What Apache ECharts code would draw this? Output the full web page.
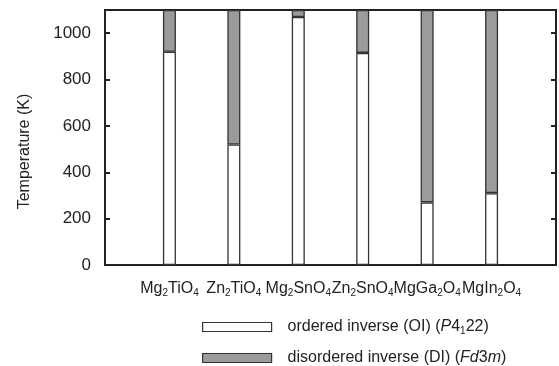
<!DOCTYPE html>
<html><head><meta charset="utf-8">
<script src="https://cdn.jsdelivr.net/npm/echarts@6/dist/echarts.min.js"></script>
<style>html,body{margin:0;padding:0;background:#fff}#c{width:559px;height:366px}</style>
</head><body><div id="c"></div>
<script>
const categories = ['', 'Mg{s|2}TiO{s|4}', 'Zn{s|2}TiO{s|4}', 'Mg{s|2}SnO{s|4}', 'Zn{s|2}SnO{s|4}', 'MgGa{s|2}O{s|4}', 'MgIn{s|2}O{s|4}', ''];
const orderedInverse = [null, 920, 520, 1070, 915, 270, 310, null];
const topTemperature = 1100;
const disorderedInverse = orderedInverse.map(v => v == null ? null : topTemperature - v);
const yTicks = [0, 200, 400, 600, 800, 1000];
const legendNames = {
  OI: 'ordered inverse (OI) ({i|P}4{s|1}22)',
  DI: 'disordered inverse (DI) ({i|Fd}3{i|m})'
};

const font = 'Liberation Sans, Arial, sans-serif';
const legendText = {
  fontFamily: font, fontSize: 16, color: '#222', padding: [0, 0, 0, 11],
  rich: {
    i: { fontFamily: font, fontSize: 16, fontStyle: 'italic', color: '#222' },
    s: { fontFamily: font, fontSize: 10, color: '#222', padding: [9, 0, 0, 0] }
  }
};
function makeLegend(name, top, fill) {
  return {
    orient: 'vertical', left: 197, top: top, itemWidth: 69, itemHeight: 9, icon: 'rect',
    data: [{ name: name, itemStyle: { color: fill, borderColor: '#333', borderWidth: 1.2 } }],
    formatter: n => legendNames[n],
    textStyle: legendText
  };
}
const chart = echarts.init(document.getElementById('c'));
chart.setOption({
  animation: false,
  grid: { left: 105, right: 3, top: 10, bottom: 101, show: true, borderColor: '#222', borderWidth: 2, backgroundColor: 'transparent' },
  legend: [makeLegend('OI', 314, '#fff'), makeLegend('DI', 345, '#9b9b9b')],
  xAxis: {
    type: 'category', data: categories, boundaryGap: false,
    axisLine: { show: true, lineStyle: { color: '#222', width: 2 } },
    axisTick: { show: false },
    axisLabel: {
      interval: 0, margin: 14, fontFamily: font, fontSize: 16, color: '#222',
      rich: { s: { fontFamily: font, fontSize: 10, color: '#222', padding: [9, 0, 0, 0] } }
    },
    splitLine: { show: false }
  },
  yAxis: [{
    type: 'value', min: 0, max: 1100, interval: 200,
    name: 'Temperature (K)', nameLocation: 'middle', nameGap: 72,
    nameTextStyle: { fontFamily: font, fontSize: 16, color: '#222', padding: [0, 28, 0, 0] },
    axisLine: { show: true, lineStyle: { color: '#222', width: 2 } },
    axisTick: { show: true, inside: true, length: 5, lineStyle: { color: '#222', width: 2 } },
    axisLabel: { fontFamily: font, fontSize: 17, color: '#222', margin: 14, showMaxLabel: false,
      formatter: v => yTicks.includes(v) ? String(v) : '' },
    splitLine: { show: false }
  }, {
    type: 'value', min: 0, max: 1100, interval: 200, position: 'right',
    axisLine: { show: false },
    axisTick: { show: true, inside: true, length: 5, lineStyle: { color: '#222', width: 2 } },
    axisLabel: { show: false },
    splitLine: { show: false }
  }],
  series: [
    { name: 'OI', type: 'bar', stack: 't', barWidth: 13, data: orderedInverse,
      itemStyle: { color: '#fff', borderColor: '#333', borderWidth: 1.3 } },
    { name: 'DI', type: 'bar', stack: 't', barWidth: 13, data: disorderedInverse,
      itemStyle: { color: '#9b9b9b', borderColor: '#333', borderWidth: 1.3 } }
  ]
});
</script></body></html>
